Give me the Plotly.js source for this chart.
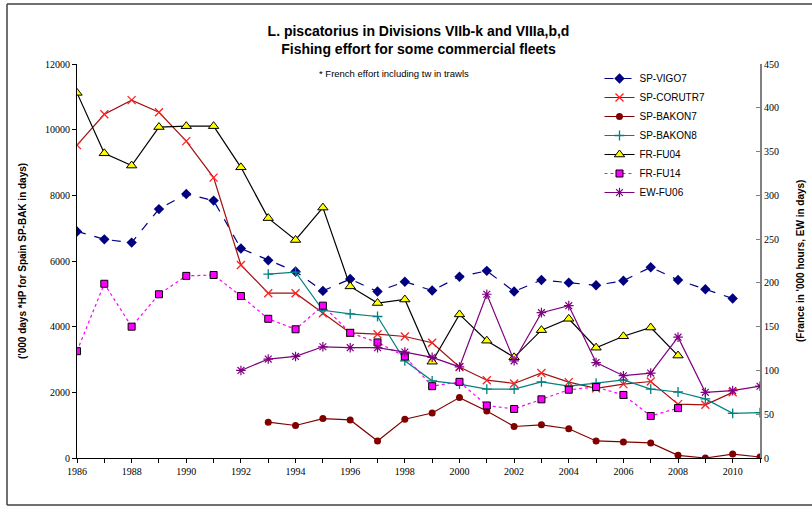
<!DOCTYPE html>
<html>
<head>
<meta charset="utf-8">
<script src="https://cdn.plot.ly/plotly-3.0.1.min.js"></script>
<style>html,body{margin:0;padding:0;background:#fff;}#chart{width:812px;height:506px;}</style>
</head>
<body>
<div id="chart"></div>
<script>
const years = [1986,1987,1988,1989,1990,1991,1992,1993,1994,1995,1996,1997,1998,1999,2000,2001,2002,2003,2004,2005,2006,2007,2008,2009,2010,2011];
const spVigo7 = [6900,6660,6560,7580,8040,7840,6380,6020,5680,5090,5450,5070,5370,5100,5520,5700,5070,5420,5340,5260,5400,5810,5420,5140,4860,null];
const spCorutr7 = [9530,10470,10900,10530,9650,8540,5880,5020,5020,4410,3810,3770,3700,3510,2770,2370,2270,2590,2310,2120,2250,2330,1640,1620,2000,null];
const spBakon7 = [null,null,null,null,null,null,null,1090,990,1200,1160,520,1180,1370,1840,1430,960,1010,890,520,490,460,80,0,120,30];
const spBakon8 = [null,null,null,null,null,null,null,5600,5660,4500,4390,4310,2960,2350,2250,2100,2100,2320,2190,2280,2380,2100,2010,1800,1360,1380];
const frFu04 = [417,348,334,378,379,379,332,274,249,286,196,177,181,110,164,134,115,146,159,126,139,149,117,null,null,null];
const frFu14 = [122,199,150,187,208,209,185,159,147,174,143,132,116,82,87,60,56,67,78,81,72,48,57,null,null,null];
const ewFu06 = [null,null,null,null,null,null,100,113,116,127,126,126,121,115,104,187,111,166,174,109,94,97,138,75,77,82];
const xTickLabels = years.map(y => (y % 2 === 0 && y < 2011) ? String(y) : '');

const traces = [
  {name:'SP-VIGO7', x:years, y:spVigo7, mode:'lines+markers', yaxis:'y',
   line:{color:'#000080', width:1.2, dash:'dash'}, marker:{symbol:'diamond', size:8, color:'#000080'}},
  {name:'SP-CORUTR7', x:years, y:spCorutr7, mode:'lines+markers', yaxis:'y',
   line:{color:'#a01010', width:1.2}, marker:{symbol:'x-thin-open', size:8, color:'#ff2020', line:{width:1.3, color:'#ff2020'}}},
  {name:'SP-BAKON7', x:years, y:spBakon7, mode:'lines+markers', yaxis:'y',
   line:{color:'#800000', width:1.2}, marker:{symbol:'circle', size:7, color:'#800000'}},
  {name:'SP-BAKON8', x:years, y:spBakon8, mode:'lines+markers', yaxis:'y',
   line:{color:'#008080', width:1.2}, marker:{symbol:'cross-thin-open', size:7, color:'#008080', line:{width:1.3, color:'#008080'}}},
  {name:'FR-FU04', x:years, y:frFu04, mode:'lines+markers', yaxis:'y2',
   line:{color:'#000000', width:1.2}, marker:{symbol:'triangle-up', size:9, color:'#ffff00', line:{width:1, color:'#000000'}}},
  {name:'FR-FU14', x:years, y:frFu14, mode:'lines+markers', yaxis:'y2',
   line:{color:'#ff00ff', width:1.2, dash:'dot'}, marker:{symbol:'square', size:7, color:'#ff00ff', line:{width:1, color:'#000000'}}},
  {name:'EW-FU06', x:years, y:ewFu06, mode:'lines+markers', yaxis:'y2',
   line:{color:'#800080', width:1.2}, marker:{symbol:'asterisk-open', size:8, color:'#800080', line:{width:1.2, color:'#800080'}}}
];

const tickFont = {family:'"Liberation Serif", "Times New Roman", serif', size:10, color:'#000'};
const layout = {
  width:812, height:506,
  margin:{l:77, r:52, t:64, b:48},
  paper_bgcolor:'#fff', plot_bgcolor:'#fff',
  font:{family:'"Liberation Sans", Arial, sans-serif', size:10, color:'#000'},
  title:{text:'<b>L. piscatorius in Divisions VIIb-k and VIIIa,b,d<br>Fishing effort for some commercial fleets</b>',
    font:{family:'"Liberation Sans", Arial, sans-serif', size:14, color:'#000'}, x:0.5, xref:'paper', xanchor:'center', y:0.929, yanchor:'top'},
  xaxis:{range:[1986,2011], tickmode:'array', tickvals:years, ticktext:xTickLabels,
    showgrid:false, zeroline:false, showline:true, linecolor:'#000', linewidth:1,
    ticks:'outside', ticklen:4, tickcolor:'#000', tickfont:tickFont},
  yaxis:{range:[0,12000], dtick:2000, tickformat:'d', showgrid:false, zeroline:false, showline:true, linecolor:'#000', linewidth:1,
    ticks:'outside', ticklen:4, tickcolor:'#000', tickfont:tickFont},
  yaxis2:{range:[0,450], dtick:50, tickformat:'d', overlaying:'y', side:'right', showgrid:false, zeroline:false,
    showline:true, linecolor:'#808080', linewidth:2, ticks:'inside', ticklen:4, tickcolor:'#808080', tickfont:tickFont},
  legend:{x:0.765, y:1.0, xanchor:'left', yanchor:'top', bgcolor:'rgba(0,0,0,0)', borderwidth:0,
    font:{family:'"Liberation Sans", Arial, sans-serif', size:10, color:'#000'}, tracegroupgap:0, itemwidth:30},
  showlegend:true,
  annotations:[
    {text:'* French effort including tw in trawls', xref:'paper', yref:'paper', x:(394-77)/683, y:(458-74)/394,
     xanchor:'center', yanchor:'middle', showarrow:false, font:{size:9.5}},
    {text:"<b>('000 days *HP for Spain SP-BAK in days)</b>", xref:'paper', yref:'paper', x:(22-77)/683, y:0.5,
     xanchor:'center', yanchor:'middle', textangle:-90, showarrow:false, font:{size:10}},
    {text:"<b>(France in '000 hours, EW in days)</b>", xref:'paper', yref:'paper', x:(800-77)/683, y:0.5,
     xanchor:'center', yanchor:'middle', textangle:-90, showarrow:false, font:{size:10}}
  ],
  shapes:[
    {type:'line', xref:'paper', yref:'paper', x0:(7-77)/683, x1:(7-77)/683, y0:(458-505)/394, y1:(458-4)/394, line:{color:'#404040', width:1.5}},
    {type:'line', xref:'paper', yref:'paper', x0:(7-77)/683, x1:(815-77)/683, y0:(458-4)/394, y1:(458-4)/394, line:{color:'#404040', width:1.5}},
    {type:'line', xref:'paper', yref:'paper', x0:(7-77)/683, x1:(815-77)/683, y0:(458-505)/394, y1:(458-505)/394, line:{color:'#404040', width:1.5}}
  ]
};
Plotly.newPlot('chart', traces, layout, {displayModeBar:false, staticPlot:true});
</script>
</body>
</html>
